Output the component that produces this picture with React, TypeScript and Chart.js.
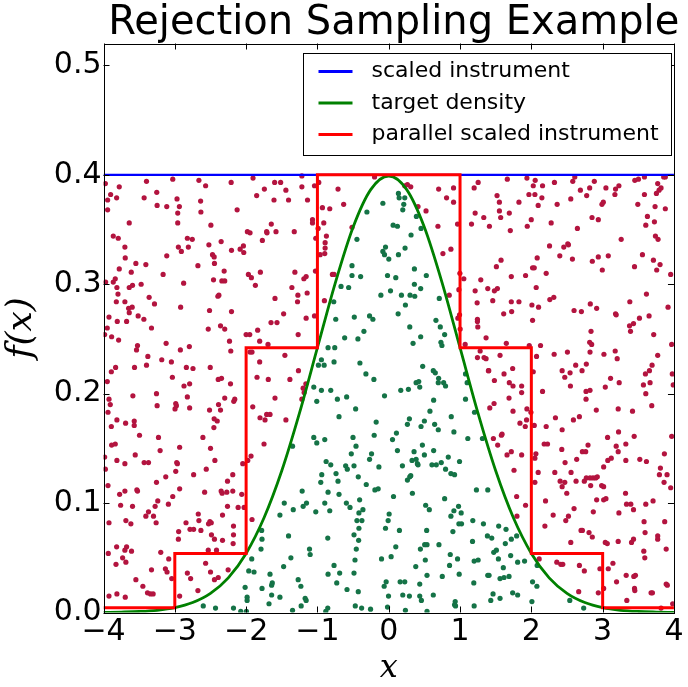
import React, { useEffect, useRef } from 'react';
import { Chart, registerables } from 'chart.js';

Chart.register(...registerables);

const TITLE = 'Rejection Sampling Example';
const X_LABEL = 'x';
const Y_LABEL = 'f(x)';
const X_MIN = -4;
const X_MAX = 4;
const Y_MIN = 0;
const Y_MAX = 0.52;
const X_STEP = 1;
const Y_STEP = 0.1;

const LABEL_INSTRUMENT = 'scaled instrument';
const LABEL_TARGET = 'target density';
const LABEL_PARALLEL = 'parallel scaled instrument';

// scaled instrument (flat)
const instrumentX = [-4, 4];
const instrumentY = [0.4, 0.4];

// target density
const densityX = [-4, -3.75, -3.5, -3.25, -3, -2.75, -2.5, -2.25, -2, -1.75, -1.5, -1.25, -1, -0.75, -0.5, -0.25, 0,
  0.25, 0.5, 0.75, 1, 1.25, 1.5, 1.75, 2, 2.25, 2.5, 2.75, 3, 3.25, 3.5, 3.75, 4];
const densityY = [0.0001, 0.0004, 0.0009, 0.002, 0.0044, 0.0091, 0.0175, 0.0317, 0.054, 0.0863, 0.1295, 0.1826, 0.242, 0.3011, 0.3521, 0.3867, 0.3989,
  0.3867, 0.3521, 0.3011, 0.242, 0.1826, 0.1295, 0.0863, 0.054, 0.0317, 0.0175, 0.0091, 0.0044, 0.002, 0.0009, 0.0004, 0.0001];

// parallel scaled instrument (step levels starting at each x)
const stepX = [-4, -3, -2, -1, 1, 2, 3, 4];
const stepY = [0.0044, 0.054, 0.242, 0.4, 0.242, 0.054, 0.0044, 0.0044];

// rejected samples (red)
const rejected: [number, number][] = [
[-3.974,0.392],[-3.779,0.389],[-3.900,0.382],[-3.942,0.377],[-3.816,0.379],[-3.942,0.368],[-3.397,0.394],[-3.029,0.396],[-2.662,0.395],[-2.568,0.390],
[-3.253,0.384],[-3.430,0.379],[-3.248,0.372],[-3.113,0.371],[-2.969,0.378],[-2.936,0.371],[-2.959,0.365],[-2.638,0.376],[-2.634,0.366],[-3.639,0.356],
[-2.959,0.356],[-2.210,0.393],[-1.903,0.397],[-1.600,0.393],[-1.516,0.393],[-1.744,0.387],[-1.852,0.381],[-1.442,0.386],[-1.609,0.377],[-1.405,0.377],
[-2.126,0.368],[-2.494,0.354],[-1.647,0.355],[-1.982,0.348],[-1.945,0.347],[-1.712,0.348],[-1.707,0.347],[-1.581,0.348],[-1.325,0.348],[-1.772,0.340],
[-3.863,0.344],[-3.793,0.342],[-3.700,0.334],[-3.695,0.324],[-2.824,0.342],[-2.755,0.341],[-2.950,0.334],[-2.810,0.334],[-2.908,0.330],[-3.113,0.326],
[-2.522,0.336],[-2.350,0.339],[-2.471,0.327],[-2.448,0.325],[-2.444,0.319],[-2.205,0.331],[-2.084,0.332],[-2.038,0.335],[-2.033,0.329],[-3.546,0.319],
[-3.406,0.318],[-3.779,0.314],[-3.611,0.311],[-2.676,0.317],[-3.164,0.309],[-2.308,0.312],[-3.970,0.302],[-3.863,0.302],[-3.835,0.305],[-3.812,0.297],
[-3.639,0.297],[-3.593,0.299],[-3.472,0.300],[-2.876,0.301],[-2.457,0.304],[-2.340,0.303],[-2.300,0.303],[-1.968,0.309],[-1.926,0.306],[-1.800,0.311],
[-1.870,0.299],[-1.316,0.311],[-1.358,0.297],[-3.797,0.291],[-3.820,0.284],[-3.700,0.284],[-3.360,0.288],[-3.285,0.282],[-3.648,0.278],[-3.598,0.279],
[-3.639,0.274],[-3.923,0.270],[-3.514,0.271],[-3.434,0.268],[-2.918,0.279],[-2.513,0.276],[-2.396,0.289],[-2.382,0.290],[-2.205,0.275],[-1.595,0.287],
[-1.474,0.273],[-1.274,0.290],[-1.279,0.284],
[-3.807,0.266],[-3.676,0.266],[-3.984,0.254],[-3.947,0.260],[-3.886,0.252],[-3.788,0.249],[-3.327,0.260],[-3.523,0.244],[-3.537,0.240],[-3.378,0.234],
[-3.122,0.246],[-2.922,0.240],[-2.796,0.243],[-2.531,0.259],[-2.359,0.262],[-2.300,0.259],[-2.233,0.248],[-2.215,0.239],[-2.000,0.254],[-1.949,0.254],
[-1.838,0.258],[-1.651,0.265],[-1.567,0.265],[-1.810,0.248],[-1.693,0.245],[-1.270,0.254],[-1.945,0.238],[-1.917,0.238],[-1.456,0.235],[-1.810,0.229],
[-1.266,0.221],[-1.386,0.213],[-1.689,0.213],[-1.847,0.215],[-1.595,0.196],[-1.907,0.188],[-1.712,0.181],[-1.665,0.181],[-1.805,0.178],[-1.735,0.176],
[-1.442,0.176],[-1.749,0.154],[-1.931,0.143],[-1.977,0.139],[-2.047,0.136],[-3.947,0.211],[-3.890,0.220],[-3.830,0.224],[-3.565,0.224],[-3.397,0.226],
[-3.183,0.231],[-3.048,0.229],[-2.838,0.224],[-2.745,0.223],[-2.503,0.224],[-3.034,0.215],[-2.871,0.207],[-2.792,0.209],[-2.391,0.213],[-2.345,0.214],
[-2.219,0.209],[-3.257,0.200],[-3.588,0.198],[-3.923,0.195],[-3.905,0.190],[-3.937,0.183],[-3.248,0.189],[-2.987,0.191],[-2.978,0.189],[-2.997,0.186],
[-2.824,0.197],[-2.792,0.187],[-2.513,0.185],[-2.387,0.190],[-2.359,0.185],[-2.300,0.196],[-2.173,0.193],[-2.159,0.195],[-3.812,0.176],[-3.690,0.173],
[-3.569,0.175],[-3.569,0.171],[-3.890,0.170],[-3.495,0.162],[-3.229,0.160],[-2.448,0.177],[-2.405,0.175],[-2.452,0.169],[-2.606,0.160],[-3.886,0.153],
[-3.835,0.154],[-3.555,0.144],[-3.206,0.148],[-2.932,0.151],[-2.499,0.150],[-3.984,0.142],[-3.812,0.139],[-3.700,0.136],[-3.430,0.137],[-3.369,0.137],
[-2.973,0.137],[-2.964,0.136],[-2.438,0.139],[-2.559,0.131],[-3.974,0.131],
[-2.987,0.129],[-3.127,0.124],[-2.736,0.126],[-2.187,0.126],[-2.261,0.120],[-3.257,0.119],[-3.937,0.116],[-3.774,0.108],[-3.700,0.111],[-3.532,0.112],
[-3.523,0.111],[-2.932,0.113],[-2.582,0.110],[-2.350,0.111],[-2.336,0.109],[-2.271,0.110],[-2.187,0.111],[-2.061,0.108],[-3.239,0.102],[-3.276,0.097],
[-3.090,0.099],[-3.029,0.106],[-3.760,0.098],[-3.593,0.097],[-3.369,0.092],[-3.406,0.088],[-3.299,0.088],[-3.262,0.082],[-3.686,0.084],[-3.616,0.081],
[-3.923,0.082],[-2.671,0.090],[-2.662,0.084],[-2.843,0.082],[-2.508,0.083],[-2.489,0.082],[-2.527,0.081],[-2.261,0.097],[-2.112,0.096],[-2.028,0.096],
[-2.331,0.089],[-1.917,0.085],[-2.177,0.079],[-2.787,0.076],[-2.736,0.076],[-2.946,0.074],[-2.950,0.067],[-2.634,0.075],[-2.486,0.071],[-2.444,0.067],
[-2.331,0.066],[-2.177,0.071],[-2.182,0.063],[-2.415,0.057],[-2.531,0.057],[-3.816,0.060],[-3.676,0.060],[-3.700,0.057],[-3.607,0.056],[-3.933,0.054],
[-3.732,0.050],[-3.686,0.046],[-3.825,0.044],[-3.197,0.055],[-3.085,0.049],[-3.327,0.039],[-3.132,0.040],[-3.109,0.037],[-3.043,0.031],[-3.546,0.030],
[-3.448,0.024],[-3.383,0.018],[-3.341,0.017],[-3.304,0.017],[-2.824,0.036],[-2.778,0.031],[-2.568,0.045],[-2.499,0.037],[-2.391,0.032],[-2.444,0.030],
[-2.252,0.039],[-2.676,0.020],[-2.932,0.015],[-3.923,0.015],[-3.812,0.017],[-3.695,0.014],
[-1.218,0.399],[-1.218,0.389],[-1.041,0.390],[-0.981,0.393],[-1.139,0.377],[-1.069,0.359],[-1.069,0.356],[-0.990,0.351],[-1.023,0.342],[-0.892,0.338],
[-0.892,0.333],[-0.897,0.328],[-0.962,0.327],[-0.874,0.344],[-0.911,0.356],[-0.930,0.370],[-0.827,0.369],[-0.711,0.387],[-0.632,0.373],[-0.515,0.352],
[-0.199,0.398],[0.225,0.390],[0.262,0.391],[0.309,0.389],[0.411,0.371],[0.523,0.367],[0.700,0.387],[0.909,0.388],[0.811,0.379],[0.909,0.375],
[0.690,0.353],[0.965,0.355],[0.760,0.328],[0.872,0.332],[1.198,0.388],[1.254,0.393],[1.212,0.365],[1.333,0.361],[1.161,0.355],[-1.028,0.312],
[-1.190,0.305],[-1.158,0.307],[-1.144,0.292],[-0.790,0.309],[-0.767,0.309],[-0.902,0.285],[-1.041,0.271],[-1.158,0.269],[0.998,0.310],[1.053,0.305],
[1.291,0.304],[1.212,0.294],[1.389,0.296],[0.984,0.295],[0.849,0.290],[1.240,0.283],[0.993,0.272],[0.970,0.269],[1.244,0.268],
[-1.162,0.209],[-1.200,0.205],[-1.186,0.201],[-1.218,0.195],[1.002,0.259],[1.244,0.266],[1.249,0.261],[1.365,0.251],[1.072,0.245],[1.282,0.239],
[1.244,0.233],[1.337,0.233],[1.398,0.221],
[1.663,0.396],[1.938,0.397],[2.054,0.395],[2.027,0.390],[2.157,0.390],[2.324,0.393],[2.609,0.398],[2.581,0.394],[2.883,0.394],[2.818,0.388],
[2.688,0.386],[2.776,0.381],[3.046,0.388],[3.181,0.387],[3.228,0.390],[3.172,0.382],[3.451,0.395],[3.502,0.396],[3.586,0.398],[3.856,0.398],
[3.879,0.398],[3.772,0.392],[3.819,0.388],[3.791,0.386],[3.754,0.383],[3.586,0.382],[1.519,0.381],[1.552,0.375],[1.966,0.382],[2.050,0.382],
[2.148,0.379],[1.826,0.375],[2.096,0.372],[2.362,0.373],[2.553,0.378],[3.009,0.375],[2.990,0.373],[3.493,0.373],[3.735,0.371],[3.879,0.369],
[1.552,0.367],[1.691,0.365],[1.570,0.361],[1.412,0.353],[1.705,0.349],[1.943,0.353],[1.999,0.359],[2.278,0.356],[2.646,0.351],[2.851,0.361],
[2.939,0.359],[3.628,0.362],[3.726,0.357],[3.605,0.354],[3.260,0.341],[3.740,0.344],[3.777,0.341],[2.255,0.335],[2.455,0.334],[2.511,0.337],
[2.520,0.336],[2.399,0.326],[2.576,0.323],[2.082,0.324],[1.575,0.322],[1.510,0.316],[1.719,0.307],[1.919,0.308],[2.017,0.315],[2.041,0.315],
[2.208,0.310],[2.855,0.321],[2.939,0.325],[3.079,0.326],[2.995,0.313],[3.447,0.316],[3.558,0.327],[3.712,0.322],[3.805,0.318],[3.758,0.313],
[3.954,0.309],[1.482,0.294],[1.524,0.296],[2.068,0.297],[1.459,0.285],[1.719,0.284],[1.826,0.284],[2.008,0.281],[2.101,0.279],[2.259,0.286],
[2.315,0.288],[1.612,0.273],[1.724,0.275],[2.599,0.276],[2.702,0.275],[2.827,0.282],[2.916,0.278],[3.181,0.273],[3.190,0.272],[3.381,0.284],
[3.614,0.291],[3.917,0.279],[3.516,0.269],[3.651,0.271],[2.017,0.267],
[3.377,0.262],[3.433,0.264],[3.391,0.257],[2.837,0.257],[2.818,0.247],[2.846,0.245],[1.649,0.246],[1.971,0.244],[2.129,0.244],[1.561,0.235],
[1.365,0.232],[1.403,0.221],[1.617,0.218],[1.738,0.223],[1.482,0.212],[1.691,0.210],[1.743,0.207],[1.864,0.207],[1.864,0.201],[2.073,0.234],
[2.320,0.236],[2.506,0.238],[2.027,0.220],[2.432,0.221],[2.543,0.219],[2.469,0.215],[2.622,0.226],[2.711,0.221],[2.771,0.227],[2.823,0.238],
[3.018,0.236],[3.176,0.239],[3.204,0.232],[3.111,0.214],[3.232,0.210],[3.037,0.206],[2.548,0.207],[2.767,0.202],[2.823,0.203],[2.767,0.195],
[2.157,0.202],[1.687,0.196],[1.477,0.191],[1.417,0.187],[1.743,0.184],[1.938,0.186],[1.933,0.176],[1.840,0.173],[1.915,0.170],[2.041,0.171],
[1.994,0.183],[2.338,0.178],[2.590,0.176],[2.674,0.179],[2.208,0.170],[2.432,0.167],[2.911,0.185],[3.218,0.186],[3.419,0.184],[3.716,0.254],
[3.772,0.235],[3.693,0.226],[3.968,0.245],[3.600,0.218],[3.656,0.221],[3.665,0.210],[3.572,0.208],[3.605,0.200],[3.689,0.189],[3.977,0.218],
[3.990,0.208],[1.580,0.162],[1.589,0.163],[1.468,0.159],[1.528,0.153],[1.719,0.147],[1.659,0.144],[1.864,0.144],[2.050,0.141],[2.064,0.145],
[2.180,0.154],[2.227,0.154],[2.427,0.149],[2.473,0.137],[2.636,0.140],[2.716,0.147],[2.762,0.147],[2.795,0.153],[3.069,0.160],[3.223,0.165],
[3.442,0.161],[3.190,0.152],[3.218,0.147],[3.325,0.154],[3.121,0.141],[3.072,0.139],[3.014,0.133],[3.325,0.139],[3.521,0.140],[3.614,0.138],
[3.866,0.145],[3.968,0.161],[3.810,0.132],[1.757,0.130],
[2.096,0.128],[2.329,0.128],[2.557,0.128],[2.050,0.119],[2.404,0.120],[2.469,0.119],[2.432,0.115],[2.627,0.120],[2.497,0.109],[2.771,0.123],
[2.823,0.123],[2.865,0.123],[2.902,0.123],[2.925,0.124],[2.986,0.116],[3.014,0.115],[2.743,0.120],[2.832,0.116],[1.794,0.106],[1.919,0.098],
[2.199,0.102],[1.798,0.088],[2.306,0.089],[2.520,0.088],[2.483,0.084],[2.190,0.079],[2.599,0.095],[2.869,0.092],[2.916,0.103],[3.014,0.103],
[3.046,0.104],[3.321,0.109],[3.335,0.099],[3.395,0.099],[3.433,0.094],[3.228,0.091],[3.605,0.099],[3.707,0.102],[3.796,0.126],[3.903,0.126],
[3.861,0.119],[3.954,0.114],[3.870,0.083],[3.581,0.083],[3.595,0.073],[2.697,0.075],[2.716,0.075],[2.809,0.073],[2.855,0.069],[2.553,0.064],
[3.037,0.064],[3.065,0.063],[3.218,0.065],[3.405,0.064],[3.433,0.067],[3.772,0.070],[3.772,0.067],[3.891,0.058],[3.577,0.056],[3.591,0.050],
[2.110,0.049],[2.357,0.046],[2.413,0.044],[2.441,0.044],[2.674,0.043],[2.743,0.038],[2.962,0.040],[3.079,0.040],[3.144,0.045],[3.330,0.034],
[3.437,0.033],[3.460,0.034],[3.195,0.028],[3.014,0.022],[2.939,0.018],[2.664,0.019],[3.447,0.022],[3.451,0.020],[3.339,0.011],[3.679,0.018],
[3.698,0.018],[3.891,0.026],[3.907,0.025],[3.819,0.004],[3.982,0.008],
];

// accepted samples (green)
const accepted: [number, number][] = [
[-1.349,0.152],
[-1.465,0.100],[-1.339,0.094],[-1.526,0.089],[-1.782,0.075],[-1.777,0.067],[-1.405,0.070],[-1.791,0.058],[-1.921,0.049],[-1.372,0.050],[-1.474,0.042],
[-1.963,0.038],[-1.889,0.037],[-1.665,0.035],[-1.270,0.030],[-1.633,0.027],[-1.642,0.025],[-1.777,0.022],[-2.014,0.023],[-1.642,0.016],[-1.526,0.014],
[-1.986,0.014],[-1.986,0.011],[-1.679,0.008],[-2.429,0.004],[-2.601,0.006],[-2.177,0.004],[-2.075,0.001],[-1.996,0.001],[-1.349,0.002],
[0.136,0.383],[0.146,0.379],[0.225,0.379],[0.211,0.373],[0.197,0.368],[-0.082,0.374],[-0.306,0.366],[0.388,0.362],[0.062,0.354],[0.122,0.353],
[0.453,0.351],[0.313,0.345],[-0.446,0.341],[-0.045,0.334],[-0.082,0.330],[-0.059,0.327],[0.001,0.323],[0.136,0.327],[0.229,0.333],[-0.515,0.317],
[-0.515,0.308],[-0.394,0.307],[-0.017,0.308],[0.099,0.306],[0.360,0.314],[0.527,0.308],[-0.669,0.298],[-0.562,0.297],[0.360,0.300],[0.448,0.296],
[0.025,0.294],[-0.110,0.290],[0.178,0.290],[0.299,0.290],[0.365,0.289],[0.234,0.281],[-0.771,0.284],[0.709,0.287],[0.132,0.273],[-0.269,0.271],
[-0.222,0.268],[-0.483,0.270],[-0.743,0.268],[0.662,0.267],
[-0.618,0.251],[-0.432,0.250],[-0.348,0.257],[-0.851,0.242],[-0.757,0.242],[-0.944,0.231],[-0.986,0.226],[-0.906,0.226],[-0.767,0.229],[-0.404,0.228],
[-0.320,0.218],[-0.208,0.213],[0.295,0.261],[0.448,0.252],[0.341,0.246],[0.723,0.261],[0.784,0.254],[0.732,0.247],[0.746,0.244],[0.476,0.225],
[0.625,0.221],[0.653,0.219],[0.700,0.214],[0.695,0.210],[0.770,0.210],[0.797,0.207],[0.384,0.210],[0.421,0.211],[0.435,0.206],[0.169,0.203],
[0.276,0.204],[-1.051,0.206],[-0.944,0.203],[-0.813,0.203],[-1.009,0.193],[-0.720,0.195],[-0.590,0.197],[-0.059,0.198],[0.630,0.194],[-0.464,0.186],
[0.578,0.184],[-0.697,0.179],[0.290,0.177],[0.262,0.172],[0.500,0.175],[0.453,0.170],[0.644,0.172],[0.695,0.167],[0.877,0.179],[0.914,0.165],
[-0.176,0.174],[0.108,0.164],[0.053,0.158],[-0.204,0.162],[-1.051,0.160],[-1.009,0.155],[-0.897,0.158],[-0.501,0.160],[-0.459,0.152],[-0.525,0.145],
[-0.241,0.145],[-0.269,0.140],[0.122,0.148],[0.355,0.147],[0.472,0.153],[0.500,0.144],[0.630,0.148],[0.384,0.140],[0.327,0.139],[0.402,0.136],
[0.411,0.135],[0.835,0.142],[0.737,0.137],[0.667,0.135],[0.606,0.135],[0.797,0.131],[0.993,0.138],[0.192,0.134],[-0.138,0.133],[-0.487,0.134],
[-0.604,0.134],[-0.581,0.131],[-0.878,0.138],[-0.813,0.135],[1.077,0.218],[1.100,0.210],[1.077,0.195],[1.203,0.183],[1.109,0.159],[1.314,0.159],
[-0.939,0.126],[-0.953,0.119],[-0.739,0.127],[-0.711,0.120],[-0.427,0.124],[-0.315,0.117],[-0.194,0.112],[-0.148,0.113],[0.262,0.121],[0.295,0.124],
[0.309,0.125],[0.872,0.127],[0.923,0.126],[-1.214,0.111],[-0.851,0.110],[-0.697,0.108],[-1.153,0.100],[-1.200,0.097],[-0.897,0.100],[-1.023,0.092],
[-0.827,0.093],[-0.594,0.100],[-0.543,0.096],[-0.408,0.103],[-0.362,0.094],[-0.418,0.091],[-0.446,0.084],[-0.376,0.084],[-0.418,0.077],[-0.487,0.071],
[-0.422,0.066],[-0.855,0.068],[0.067,0.106],[0.332,0.109],[0.006,0.090],[-0.008,0.084],[-0.045,0.077],[0.150,0.075],[0.518,0.098],[0.569,0.094],
[0.784,0.104],[0.979,0.097],[0.914,0.093],[1.016,0.091],[0.872,0.088],[0.984,0.081],[1.021,0.081],[0.900,0.074],[0.532,0.075],[1.230,0.112],
[1.389,0.112],[1.179,0.084],[1.328,0.081],[1.384,0.070],[1.175,0.065],[-1.111,0.058],[-1.102,0.053],[-0.455,0.058],[-0.473,0.048],[-0.101,0.049],
[0.034,0.051],[0.099,0.060],[0.444,0.058],[0.504,0.062],[0.537,0.062],[0.704,0.062],[0.863,0.053],[0.965,0.049],[1.198,0.047],[1.254,0.048],
[0.853,0.043],[0.513,0.048],[0.379,0.042],[-0.767,0.043],[-0.851,0.035],[-0.688,0.036],[-0.487,0.036],[-1.232,0.024],[-0.729,0.027],
[-0.585,0.021],[-0.427,0.019],[-0.036,0.028],[-0.064,0.024],[0.160,0.028],[0.225,0.028],[0.537,0.034],[0.751,0.033],[0.988,0.035],[1.389,0.034],
[0.435,0.026],[1.193,0.027],[-1.172,0.013],[-1.158,0.011],[-1.228,0.006],[-0.855,0.004],[-0.883,0.001],[-0.469,0.006],[-0.380,0.004],[-0.255,0.003],
[-0.017,0.005],[-0.003,0.015],[0.197,0.016],[0.290,0.015],[0.435,0.015],[0.458,0.011],[0.625,0.016],[0.234,0.002],[0.537,0.001],[0.932,0.010],
[0.923,0.007],[0.937,0.006],[1.198,0.006],
[1.445,0.068],[1.542,0.079],[1.645,0.076],[1.794,0.070],[1.719,0.067],[1.635,0.063],[1.510,0.057],[1.473,0.055],[1.538,0.049],[1.710,0.052],
[1.808,0.046],[1.905,0.047],[1.607,0.041],[1.407,0.034],[1.561,0.031],[1.617,0.032],[1.687,0.033],[2.017,0.028],[2.078,0.024],[1.463,0.017],
[1.431,0.011],[1.561,0.013],[1.738,0.018],[1.808,0.016],[2.008,0.010],[2.539,0.011],[2.734,0.004],[2.082,0.043],
];

const BLUE = '#0000ff';
const GREEN = '#008000';
const RED = '#ff0000';
const REJECT_COLOR = '#b3143f';
const ACCEPT_COLOR = '#157347';
const FONT = "'DejaVu Sans', sans-serif";

const toXY = (xs: number[], ys: number[]) => xs.map((x, i) => ({ x, y: ys[i] }));
const fmtX = (v: number) => (v < 0 ? '\u2212' + Math.abs(v) : String(v));

const decorPlugin = {
  id: 'decor',
  afterDraw(chart: any) {
    const { ctx } = chart;
    const { left, right, top, bottom } = chart.chartArea;
    const xs = chart.scales.x;
    const ys = chart.scales.y;
    ctx.save();

    // title
    ctx.fillStyle = '#000';
    ctx.font = `40px ${FONT}`;
    ctx.textAlign = 'center';
    ctx.textBaseline = 'alphabetic';
    ctx.fillText(TITLE, (left + right) / 2 + 5, top - 9.5);

    // inward ticks and frame
    ctx.strokeStyle = '#000';
    ctx.lineWidth = 1;
    ctx.beginPath();
    const tl = 6;
    xs.ticks.forEach((t: any) => {
      const p = Math.round(xs.getPixelForValue(t.value)) + 0.5;
      ctx.moveTo(p, bottom); ctx.lineTo(p, bottom - tl);
      ctx.moveTo(p, top); ctx.lineTo(p, top + tl);
    });
    ys.ticks.forEach((t: any) => {
      const p = Math.round(ys.getPixelForValue(t.value)) + 0.5;
      ctx.moveTo(left, p); ctx.lineTo(left + tl, p);
      ctx.moveTo(right, p); ctx.lineTo(right - tl, p);
    });
    ctx.stroke();
    ctx.strokeRect(Math.round(left) + 0.5, Math.round(top) + 0.5, Math.round(right - left), Math.round(bottom - top));

    // legend
    const order = [2, 1, 0];
    const bw = 368, bh = 102;
    const bx = Math.round(right) - 3 - bw + 0.5;
    const by = Math.round(top) + 9 + 0.5;
    ctx.fillStyle = '#fff';
    ctx.fillRect(bx, by, bw, bh);
    ctx.strokeStyle = '#000';
    ctx.lineWidth = 1;
    ctx.strokeRect(bx, by, bw, bh);
    ctx.font = `22px ${FONT}`;
    ctx.textBaseline = 'middle';
    ctx.textAlign = 'left';
    order.forEach((di, i) => {
      const ds = chart.data.datasets[di];
      const cy = by + 18 + i * 31.5;
      ctx.strokeStyle = ds.borderColor;
      ctx.lineWidth = 3;
      ctx.beginPath();
      ctx.moveTo(bx + 15, cy);
      ctx.lineTo(bx + 49, cy);
      ctx.stroke();
      ctx.fillStyle = '#000';
      ctx.fillText(ds.label, bx + 68, cy);
    });
    ctx.restore();
  },
};

export default function App() {
  const ref = useRef<HTMLCanvasElement | null>(null);
  useEffect(() => {
    if (!ref.current) return;
    const chart = new Chart(ref.current, {
      type: 'scatter',
      data: {
        datasets: [
          {
            type: 'line',
            label: LABEL_PARALLEL,
            data: toXY(stepX, stepY),
            borderColor: RED,
            backgroundColor: RED,
            borderWidth: 3,
            pointRadius: 0,
            stepped: 'before',
            fill: false,
            order: 0,
          } as any,
          {
            type: 'line',
            label: LABEL_TARGET,
            data: toXY(densityX, densityY),
            borderColor: GREEN,
            backgroundColor: GREEN,
            borderWidth: 2.8,
            pointRadius: 0,
            cubicInterpolationMode: 'monotone',
            fill: false,
            order: 1,
          } as any,
          {
            type: 'line',
            label: LABEL_INSTRUMENT,
            data: toXY(instrumentX, instrumentY),
            borderColor: BLUE,
            backgroundColor: BLUE,
            borderWidth: 2.2,
            pointRadius: 0,
            fill: false,
            order: 2,
          } as any,
          {
            label: 'rejected',
            data: rejected.map(([x, y]) => ({ x, y })),
            backgroundColor: REJECT_COLOR,
            borderColor: REJECT_COLOR,
            pointRadius: 2.6,
            pointBorderWidth: 0,
            order: 3,
          },
          {
            label: 'accepted',
            data: accepted.map(([x, y]) => ({ x, y })),
            backgroundColor: ACCEPT_COLOR,
            borderColor: ACCEPT_COLOR,
            pointRadius: 2.6,
            pointBorderWidth: 0,
            order: 4,
          },
        ],
      },
      options: {
        animation: false,
        responsive: false,
        maintainAspectRatio: false,
        events: [],
        layout: { padding: { left: 0, right: 11.5, top: 43.5, bottom: 0 } },
        plugins: {
          legend: { display: false },
          tooltip: { enabled: false },
          title: { display: false },
        },
        scales: {
          x: {
            type: 'linear',
            min: X_MIN,
            max: X_MAX,
            grid: { display: false, drawTicks: false },
            border: { display: false },
            ticks: {
              stepSize: X_STEP,
              autoSkip: false,
              maxRotation: 0,
              padding: 4.5,
              color: '#000',
              font: { family: FONT, size: 30, lineHeight: 1 },
              callback: (v: any) => fmtX(Number(v)),
            },
            title: {
              display: true,
              text: X_LABEL,
              color: '#000',
              font: { family: "'DejaVu Serif', serif", style: 'italic', size: 32, lineHeight: 1 },
              padding: { top: 0, bottom: 2 },
            },
            afterFit: (s: any) => { s.height = 74.5; },
          },
          y: {
            type: 'linear',
            min: Y_MIN,
            max: Y_MAX,
            grid: { display: false, drawTicks: false },
            border: { display: false },
            ticks: {
              stepSize: Y_STEP,
              includeBounds: false,
              autoSkip: false,
              padding: 2,
              color: '#000',
              font: { family: FONT, size: 30, lineHeight: 1 },
              callback: (v: any) => Number(v).toFixed(1),
            },
            title: {
              display: true,
              text: Y_LABEL,
              color: '#000',
              font: { family: "'DejaVu Serif', serif", style: 'italic', size: 36, lineHeight: 1 },
              padding: { top: 4, bottom: 0 },
            },
            afterFit: (s: any) => { s.width = 103.5; },
          },
        },
      } as any,
      plugins: [decorPlugin],
    });
    return () => chart.destroy();
  }, []);
  return (
    <div style={{ position: 'absolute', left: 0, top: 0, width: 688, height: 687, background: '#fff' }}>
      <canvas ref={ref} width={688} height={687} style={{ display: 'block' }} />
    </div>
  );
}
